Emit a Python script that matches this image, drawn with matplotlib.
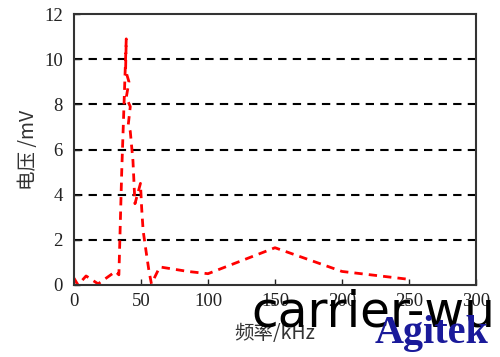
import matplotlib
matplotlib.use("Agg")
import matplotlib.pyplot as plt

freq = [0, 3, 9, 18, 31, 33.5, 35.6, 39, 38.5, 41, 39, 42, 40.5, 42, 44, 45.5, 49.6, 50.5, 51.6, 54, 56, 57.8, 64, 85, 100, 150, 200, 250]
volt = [0.3, 0.0, 0.4, 0.05, 0.6, 0.45, 5.0, 10.9, 9.5, 9.0, 8.3, 7.9, 7.1, 6.8, 5.5, 3.6, 4.5, 3.4, 2.4, 1.4, 0.6, 0.05, 0.8, 0.6, 0.5, 1.65, 0.6, 0.25]

xticks = [0, 50, 100, 150, 200, 250, 300]
yticks = [0, 2, 4, 6, 8, 10, 12]
xlabel = "频率/kHz"
ylabel = "电压 /mV"

fig = plt.figure(figsize=(5.0, 3.57), dpi=100)
ax = fig.add_axes([0.148, 0.2017, 0.804, 0.759])

for yv in yticks[1:-1]:
    ax.axhline(yv, color="black", lw=1.5, ls=(0, (4, 3)), zorder=1)

ax.plot(freq, volt, color="#ff0000", lw=2, ls=(0, (3, 2.2)), zorder=2)

ax.set_xlim(0, 300)
ax.set_ylim(0, 12)
ax.set_xticks(xticks)
ax.set_yticks(yticks)
ax.tick_params(direction="in", length=4, width=1, labelsize=13.5, colors="#222222")
ax.tick_params(axis="y", pad=8)
ax.tick_params(axis="x", pad=6)
for lab in ax.get_xticklabels() + ax.get_yticklabels():
    lab.set_fontfamily("Liberation Serif")
for s in ax.spines.values():
    s.set_linewidth(1.5)
    s.set_color("#333333")

ax.set_xlabel(xlabel, fontsize=14, family=["Noto Sans CJK SC", "DejaVu Sans"], color="#333333", labelpad=9)
ax.set_ylabel(ylabel, fontsize=14, family=["Noto Sans CJK SC", "DejaVu Sans"], color="#333333", labelpad=4)

fig.text(0.502, 0.085, "carrier-wu", fontsize=35, family="DejaVu Sans", color="black", ha="left", va="baseline")
fig.text(0.75, 0.04, "Agitek", fontsize=29, family="Liberation Serif", weight="bold", color="#1a1a9a", ha="left", va="baseline")

fig.savefig("out.png", dpi=100)
